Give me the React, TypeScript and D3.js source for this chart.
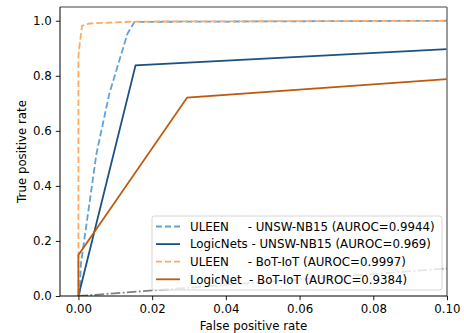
import { useEffect, useRef } from 'react';
import * as d3 from 'd3';

// ROC points
const uleenUnswFpr = [0, 0.0003, 0.0007, 0.0049, 0.0084, 0.0133, 0.0152, 0.1];
const uleenUnswTpr = [0, 0.01, 0.12, 0.518, 0.736, 0.953, 0.996, 1.0];
const logicUnswFpr = [0, 0.0155, 0.1];
const logicUnswTpr = [0, 0.838, 0.897];
const uleenBotFpr = [0, 0, 0.0002, 0.001, 0.003, 0.015, 0.1];
const uleenBotTpr = [0, 0.87, 0.9, 0.982, 0.99, 0.997, 1.0];
const logicBotFpr = [0, 0, 0.0295, 0.1];
const logicBotTpr = [0, 0.149, 0.721, 0.788];
const chanceFpr = [0, 1];
const chanceTpr = [0, 1];

const labels = [
  'ULEEN     - UNSW-NB15 (AUROC=0.9944)',
  'LogicNets - UNSW-NB15 (AUROC=0.969)',
  'ULEEN     - BoT-IoT (AUROC=0.9997)',
  'LogicNet  - BoT-IoT (AUROC=0.9384)',
];
const xTicks = [0, 0.02, 0.04, 0.06, 0.08, 0.1];
const yTicks = [0, 0.2, 0.4, 0.6, 0.8, 1.0];

const width = 464;
const height = 333;
const margin = { top: 7, right: 17, bottom: 37, left: 60 };
const font = 'DejaVu Sans, sans-serif';
const fs = 11.8;

const series = [
  { x: uleenUnswFpr, y: uleenUnswTpr, color: '#5fa2d6', dash: '6.6,2.9' },
  { x: logicUnswFpr, y: logicUnswTpr, color: '#1c5282', dash: null },
  { x: uleenBotFpr, y: uleenBotTpr, color: '#fdaa62', dash: '6.6,2.9' },
  { x: logicBotFpr, y: logicBotTpr, color: '#bd5a0d', dash: null },
];

const App = () => {
  const ref = useRef<SVGSVGElement>(null);

  useEffect(() => {
    document.body.style.margin = '0';
    const svg = d3.select(ref.current);
    svg.selectAll('*').remove();

    const x = d3.scaleLinear().domain([-0.005, 0.1]).range([margin.left, width - margin.right]);
    const y = d3.scaleLinear().domain([0, 1.05]).range([height - margin.bottom, margin.top]);

    svg.append('defs').append('clipPath').attr('id', 'plot')
      .append('rect')
      .attr('x', margin.left).attr('y', margin.top)
      .attr('width', width - margin.left - margin.right)
      .attr('height', height - margin.top - margin.bottom);

    const line = d3.line<[number, number]>().x(d => x(d[0])).y(d => y(d[1]));

    const g = svg.append('g').attr('clip-path', 'url(#plot)');

    // diagonal of a random guess
    g.append('path')
      .attr('d', line(d3.zip(chanceFpr, chanceTpr) as [number, number][]))
      .attr('fill', 'none')
      .attr('stroke', '#808080')
      .attr('stroke-width', 1.8)
      .attr('stroke-dasharray', '9.6,2.4,1.8,2.4');

    series.forEach(s => {
      g.append('path')
        .attr('d', line(d3.zip(s.x, s.y) as [number, number][]))
        .attr('fill', 'none')
        .attr('stroke', s.color)
        .attr('stroke-width', 1.8)
        .attr('stroke-dasharray', s.dash);
    });

    // axes
    const xAxis = svg.append('g')
      .attr('transform', `translate(0,${height - margin.bottom})`)
      .call(d3.axisBottom(x).tickValues(xTicks).tickFormat(d3.format('.2f')).tickSize(4.2).tickPadding(4));
    const yAxis = svg.append('g')
      .attr('transform', `translate(${margin.left},0)`)
      .call(d3.axisLeft(y).tickValues(yTicks).tickFormat(d3.format('.1f')).tickSize(4.2).tickPadding(4));

    [xAxis, yAxis].forEach(a => {
      a.select('.domain').remove();
      a.selectAll('text').attr('font-family', font).attr('font-size', fs).attr('fill', '#000');
      a.selectAll('line').attr('stroke', '#000').attr('stroke-width', 0.9);
    });

    // spines: top/right gray, left/bottom black
    const x0 = margin.left, x1 = width - margin.right, y0 = margin.top, y1 = height - margin.bottom;
    svg.append('line').attr('x1', x0).attr('x2', x1).attr('y1', y0).attr('y2', y0).attr('stroke', '#808080').attr('stroke-width', 1.6);
    svg.append('line').attr('x1', x1).attr('x2', x1).attr('y1', y0).attr('y2', y1).attr('stroke', '#808080').attr('stroke-width', 1.6);
    svg.append('line').attr('x1', x0).attr('x2', x0).attr('y1', y0).attr('y2', y1).attr('stroke', '#000').attr('stroke-width', 1);
    svg.append('line').attr('x1', x0).attr('x2', x1).attr('y1', y1).attr('y2', y1).attr('stroke', '#000').attr('stroke-width', 1);

    svg.append('text')
      .attr('x', (x0 + x1) / 2).attr('y', 330)
      .attr('text-anchor', 'middle')
      .attr('font-family', font).attr('font-size', fs)
      .text('False positive rate');
    svg.append('text')
      .attr('transform', `translate(26,${(y0 + y1) / 2}) rotate(-90)`)
      .attr('text-anchor', 'middle')
      .attr('font-family', font).attr('font-size', fs)
      .text('True positive rate');

    // legend
    const leg = svg.append('g');
    leg.append('rect')
      .attr('x', 152).attr('y', 216).attr('width', 290).attr('height', 74)
      .attr('rx', 2.5)
      .attr('fill', '#fff').attr('fill-opacity', 0.8)
      .attr('stroke', '#d6d6d6').attr('stroke-width', 1);
    series.forEach((s, i) => {
      const ly = 226.5 + i * 17.6;
      leg.append('line')
        .attr('x1', 156).attr('x2', 180).attr('y1', ly).attr('y2', ly)
        .attr('stroke', s.color).attr('stroke-width', 1.8)
        .attr('stroke-dasharray', s.dash ? '6,3' : null);
      leg.append('text')
        .attr('x', 190).attr('y', ly + 4.3)
        .attr('font-family', font).attr('font-size', fs)
        .style('white-space', 'pre')
        .text(labels[i]);
    });
  }, []);

  return <svg ref={ref} width={width} height={height} style={{ display: 'block' }} />;
};

export default App;
